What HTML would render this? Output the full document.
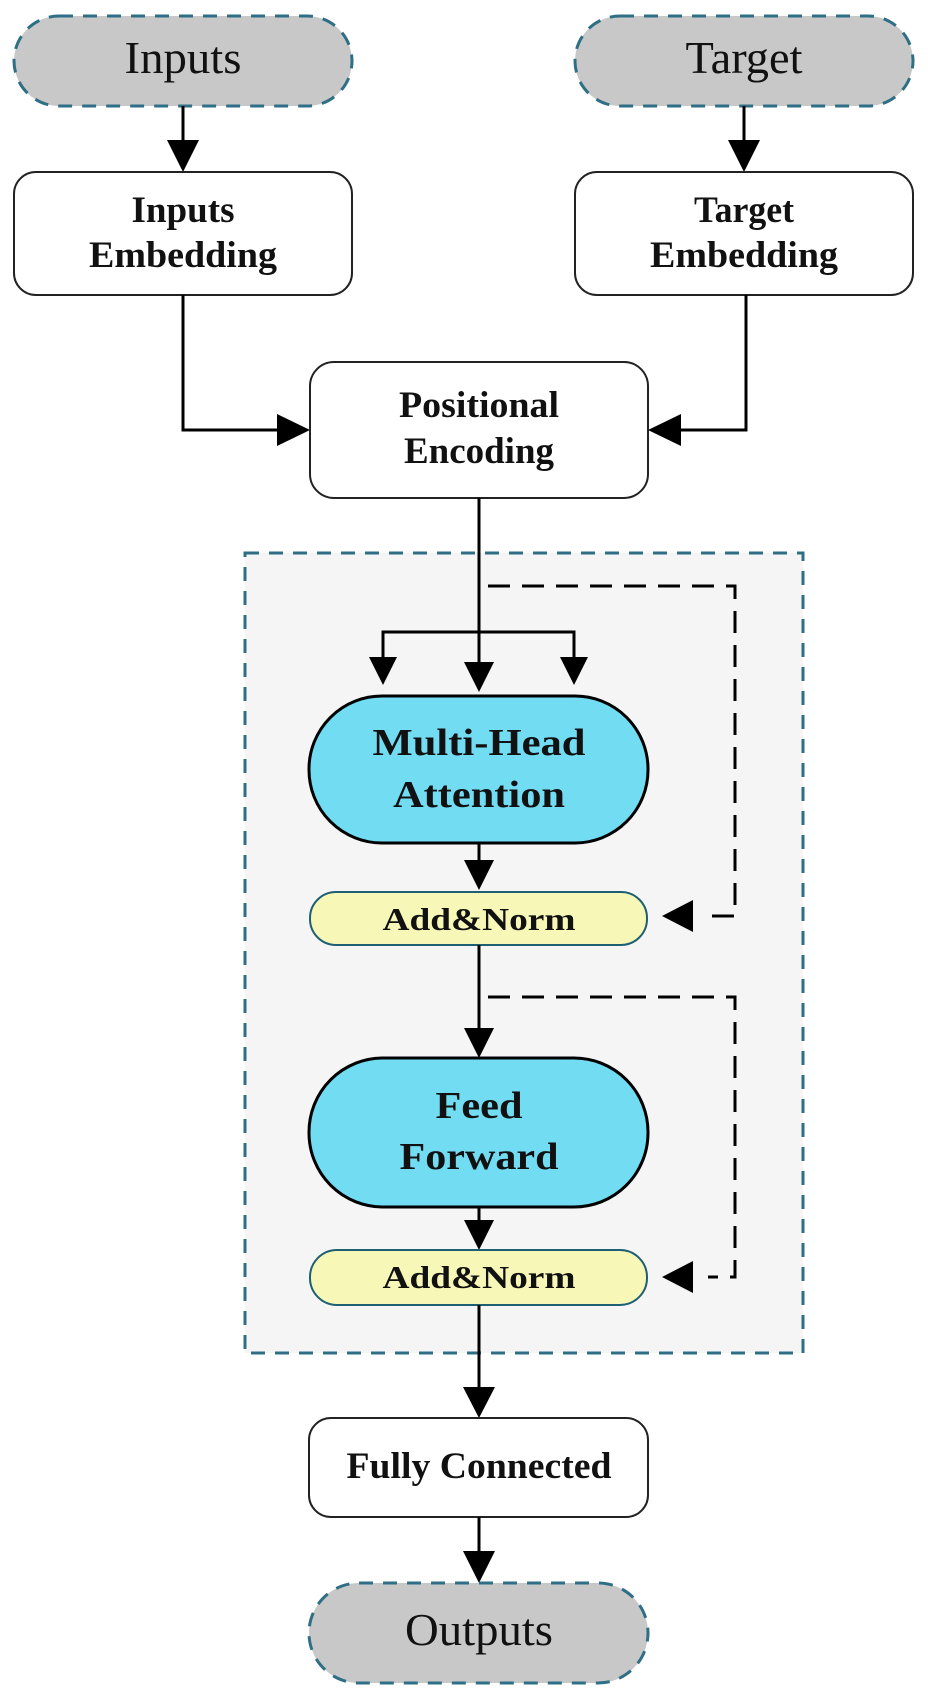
<!DOCTYPE html>
<html><head><meta charset="utf-8"><style>
html,body{margin:0;padding:0;background:#fff;}
svg{display:block;}
text{font-family:"Liberation Serif",serif;fill:#111;}
.b{font-weight:bold;}
</style></head><body>
<svg width="928" height="1696" viewBox="0 0 928 1696" xmlns="http://www.w3.org/2000/svg">
<rect x="245" y="553" width="558" height="800" fill="#f5f5f5" stroke="#2f6f86" stroke-width="3" stroke-dasharray="14,10"/>

<rect x="14" y="16" width="338" height="90" rx="45" fill="#c8c8c8" stroke="#2f6f86" stroke-width="3" stroke-dasharray="14,10"/>
<text x="183" y="73" font-size="46" text-anchor="middle" textLength="117" lengthAdjust="spacingAndGlyphs">Inputs</text>
<rect x="575" y="16" width="338" height="90" rx="45" fill="#c8c8c8" stroke="#2f6f86" stroke-width="3" stroke-dasharray="14,10"/>
<text x="744" y="73" font-size="46" text-anchor="middle" textLength="117" lengthAdjust="spacingAndGlyphs">Target</text>

<line x1="183" y1="106" x2="183" y2="145" stroke="#000" stroke-width="3"/>
<polygon points="167,140 199,140 183,172" fill="#000"/>
<line x1="744" y1="106" x2="744" y2="145" stroke="#000" stroke-width="3"/>
<polygon points="728,140 760,140 744,172" fill="#000"/>

<rect x="14" y="172" width="338" height="123" rx="22" fill="#fff" stroke="#222" stroke-width="2"/>
<text class="b" x="183" y="222" font-size="37" text-anchor="middle" textLength="103" lengthAdjust="spacingAndGlyphs">Inputs</text>
<text class="b" x="183" y="267" font-size="37" text-anchor="middle" textLength="188" lengthAdjust="spacingAndGlyphs">Embedding</text>
<rect x="575" y="172" width="338" height="123" rx="22" fill="#fff" stroke="#222" stroke-width="2"/>
<text class="b" x="744" y="222" font-size="37" text-anchor="middle" textLength="100" lengthAdjust="spacingAndGlyphs">Target</text>
<text class="b" x="744" y="267" font-size="37" text-anchor="middle" textLength="188" lengthAdjust="spacingAndGlyphs">Embedding</text>

<polyline points="183,295 183,430 282,430" fill="none" stroke="#000" stroke-width="3"/>
<polygon points="277,414 277,446 310,430" fill="#000"/>
<polyline points="746,295 746,430 676,430" fill="none" stroke="#000" stroke-width="3"/>
<polygon points="681,414 681,446 648,430" fill="#000"/>

<rect x="310" y="362" width="338" height="136" rx="24" fill="#fff" stroke="#222" stroke-width="2"/>
<text class="b" x="479" y="417" font-size="37" text-anchor="middle" textLength="160" lengthAdjust="spacingAndGlyphs">Positional</text>
<text class="b" x="479" y="463" font-size="37" text-anchor="middle" textLength="150" lengthAdjust="spacingAndGlyphs">Encoding</text>

<line x1="479" y1="498" x2="479" y2="665" stroke="#000" stroke-width="3"/>
<polyline points="383,665 383,632 574,632 574,660" fill="none" stroke="#000" stroke-width="3"/>
<polygon points="369,657 397,657 383,685" fill="#000"/>
<polygon points="560,657 588,657 574,685" fill="#000"/>
<polygon points="464,662 494,662 479,692" fill="#000"/>

<polyline points="488,586 735,586 735,916 702,916" fill="none" stroke="#000" stroke-width="3" stroke-dasharray="22,12"/>
<polygon points="693,900 693,932 662,916" fill="#000"/>

<rect x="309" y="696" width="339" height="147" rx="73" fill="#72dcf3" stroke="#000" stroke-width="3"/>
<text class="b" x="479" y="755" font-size="38" text-anchor="middle" textLength="213" lengthAdjust="spacingAndGlyphs">Multi-Head</text>
<text class="b" x="479" y="807" font-size="38" text-anchor="middle" textLength="172" lengthAdjust="spacingAndGlyphs">Attention</text>

<line x1="479" y1="843" x2="479" y2="865" stroke="#000" stroke-width="3"/>
<polygon points="464,860 494,860 479,890" fill="#000"/>

<rect x="310" y="892" width="337" height="53" rx="26" fill="#f7f7b8" stroke="#1e5f73" stroke-width="2"/>
<text class="b" x="479" y="930" font-size="32" text-anchor="middle" textLength="193" lengthAdjust="spacingAndGlyphs">Add&amp;Norm</text>

<line x1="479" y1="945" x2="479" y2="1035" stroke="#000" stroke-width="3"/>
<polygon points="464,1028 494,1028 479,1058" fill="#000"/>

<polyline points="488,997 735,997 735,1277 708,1277" fill="none" stroke="#000" stroke-width="3" stroke-dasharray="22,12"/>
<polygon points="693,1261 693,1293 662,1277" fill="#000"/>

<rect x="309" y="1058" width="339" height="149" rx="74" fill="#72dcf3" stroke="#000" stroke-width="3"/>
<text class="b" x="479" y="1118" font-size="38" text-anchor="middle" textLength="87" lengthAdjust="spacingAndGlyphs">Feed</text>
<text class="b" x="479" y="1169" font-size="38" text-anchor="middle" textLength="159" lengthAdjust="spacingAndGlyphs">Forward</text>

<line x1="479" y1="1207" x2="479" y2="1225" stroke="#000" stroke-width="3"/>
<polygon points="464,1220 494,1220 479,1250" fill="#000"/>

<rect x="310" y="1250" width="337" height="55" rx="27" fill="#f7f7b8" stroke="#1e5f73" stroke-width="2"/>
<text class="b" x="479" y="1288" font-size="32" text-anchor="middle" textLength="193" lengthAdjust="spacingAndGlyphs">Add&amp;Norm</text>

<line x1="479" y1="1305" x2="479" y2="1392" stroke="#000" stroke-width="3"/>
<polygon points="463,1387 495,1387 479,1418" fill="#000"/>

<rect x="309" y="1418" width="339" height="99" rx="22" fill="#fff" stroke="#222" stroke-width="2"/>
<text class="b" x="479" y="1478" font-size="37" text-anchor="middle" textLength="265" lengthAdjust="spacingAndGlyphs">Fully Connected</text>

<line x1="479" y1="1517" x2="479" y2="1555" stroke="#000" stroke-width="3"/>
<polygon points="463,1551 495,1551 479,1583" fill="#000"/>

<rect x="309" y="1583" width="339" height="100" rx="50" fill="#c8c8c8" stroke="#2f6f86" stroke-width="3" stroke-dasharray="14,10"/>
<text x="479" y="1645" font-size="46" text-anchor="middle" textLength="148" lengthAdjust="spacingAndGlyphs">Outputs</text>
</svg>
</body></html>
